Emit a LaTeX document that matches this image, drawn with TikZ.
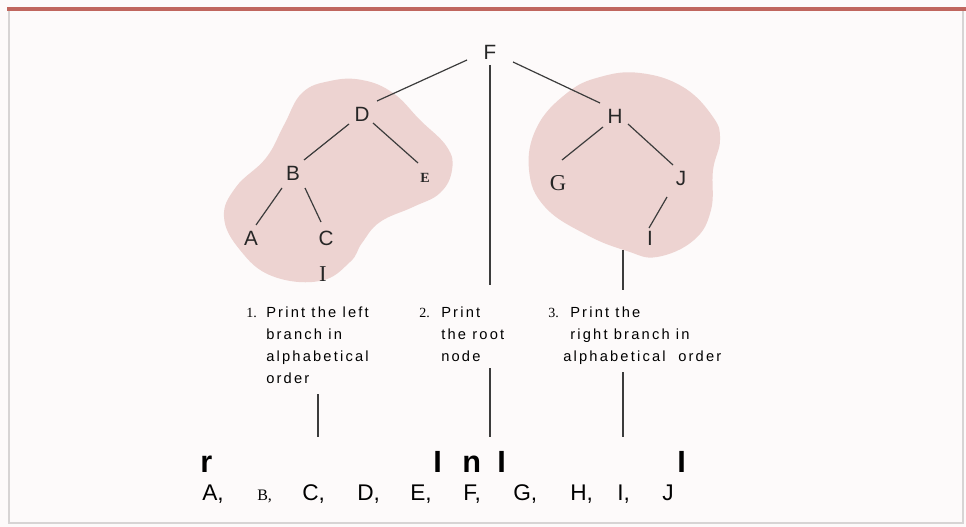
\documentclass[tikz,border=0pt]{standalone}
\usepackage{fontspec}
\setmainfont{Liberation Sans}
\newfontfamily\seriffont{Liberation Serif}
\definecolor{bgc}{RGB}{253,250,250}
\definecolor{blobc}{RGB}{237,211,209}
\definecolor{redline}{RGB}{192,102,94}
\definecolor{framec}{RGB}{215,212,212}
\definecolor{edgec}{RGB}{60,60,60}
\begin{document}
\begin{tikzpicture}[x=0.75pt,y=-0.75pt,
  edge/.style={draw=edgec,line width=0.9pt},
  tlet/.style={inner sep=0pt,font=\fontsize{15.5}{16}\selectfont,text=black!85},
  slet/.style={inner sep=0pt,font=\seriffont\fontsize{17}{18}\selectfont,text=black!85},
  bot/.style={inner sep=0pt,anchor=base west,font=\fontsize{17}{18}\selectfont},
  bigmark/.style={inner sep=0pt,anchor=base west,font=\bfseries\fontsize{23}{24}\selectfont},
  desc/.style={inner sep=0pt,anchor=base west,font=\addfontfeatures{LetterSpace=15}\fontsize{11}{12}\selectfont},
  num/.style={inner sep=0pt,anchor=base west,font=\seriffont\fontsize{10.5}{11}\selectfont}]
\useasboundingbox (0,0) rectangle (966,527);
\fill[bgc] (0,0) rectangle (966,527);
\draw[framec,line width=0.8pt] (9,10) -- (9,523) -- (963,523) -- (963,10);
\draw[redline,line width=2.4pt] (7,9) -- (966,9);
% blobs
\fill[blobc] plot[smooth cycle,tension=0.7] coordinates {
 (302,93) (330,81) (362,80) (393,93) (420,120) (447,147) (452,170) (440,193)
 (413,207) (380,222) (362,243) (350,262) (320,281) (272,276) (240,250) (224,217)
 (236,187) (266,158) (284,125)};
\fill[blobc] plot[smooth cycle,tension=0.7] coordinates {
 (600,77) (640,73) (683,87) (713,117) (720,140) (713,170) (711,210) (694,240)
 (657,257) (627,251) (587,235) (545,207) (529,170) (537,127) (567,93)};
% tree nodes
\node[tlet] (F) at (490,52) {F};
\node[tlet] (D) at (362,114) {D};
\node[inner sep=0pt,font=\seriffont\bfseries\fontsize{10.5}{11}\selectfont,text=black!85] (E) at (425,178) {E};
\node[tlet] (B) at (293,173) {B};
\node[tlet] (A) at (251,238) {A};
\node[tlet] (C) at (326,238) {C};
\node[slet] (Ib) at (323,274) {I};
\node[tlet] (H) at (615,116) {H};
\node[slet] (G) at (558,183) {G};
\node[tlet] (J) at (681,178) {J};
\node[tlet] (I) at (650,238) {I};
% connectors
\draw[edge] ([shift={(-23,8)}]F.center) -- ([shift={(15,-13)}]D.center);
\draw[edge] ([shift={(23,10)}]F.center) -- ([shift={(-15,-13)}]H.center);
\draw[edge] ([shift={(-13,10)}]D.center) -- ([shift={(11,-13)}]B.center);
\draw[edge] ([shift={(11,9)}]D.center) -- ([shift={(-7,-15)}]E.center);
\draw[edge] ([shift={(-11,15)}]B.center) -- ([shift={(5,-13)}]A.center);
\draw[edge] ([shift={(12,15)}]B.center) -- ([shift={(-5,-16)}]C.center);
\draw[edge] ([shift={(-12,11)}]H.center) -- ([shift={(4,-23)}]G.center);
\draw[edge] ([shift={(13,8)}]H.center) -- ([shift={(-8,-13)}]J.center);
\draw[edge] ([shift={(-14,19)}]J.center) -- ([shift={(-1,-10)}]I.center);
% descriptions
\node[num] (n1) at (246,317) {1.};
\node[desc] (t1a) at (266,317) {Print the left};
\node[desc] (t1b) at (266,339) {branch in};
\node[desc] (t1c) at (266,361) {alphabetical};
\node[desc] (t1d) at (266,383) {order};
\node[num] (n2) at (419,317) {2.};
\node[desc] (t2a) at (441,317) {Print};
\node[desc] (t2b) at (441,339) {the root};
\node[desc] (t2c) at (441,361) {node};
\node[num] (n3) at (548,317) {3.};
\node[desc] (t3a) at (570,317) {Print the};
\node[desc] (t3b) at (570,339) {right branch in};
\node[desc] (t3c) at (563,361) {alphabetical\ \ order};
% vertical lines
\coordinate (v1a) at (318,394); \coordinate (v1b) at (318,437);
\coordinate (v2a) at (490,368); \coordinate (v2b) at (490,437);
\coordinate (v3a) at (623,372); \coordinate (v3b) at (623,437);
\coordinate (fb) at (490,285); \coordinate (rb1) at (623,250); \coordinate (rb2) at (623,290);
\draw[edge] ([shift={(0,13)}]F.center) -- (fb);
\draw[edge] (rb1) -- (rb2);
\draw[edge] (v1a) -- (v1b);
\draw[edge] (v2a) -- (v2b);
\draw[edge] (v3a) -- (v3b);
% marks
\node[bigmark] (m1) at (200,472) {r};
\node[bigmark] (m2) at (433,472) {I};
\node[bigmark] (m3) at (462,472) {n};
\node[bigmark] (m4) at (497,472) {I};
\node[bigmark] (m5) at (677,472) {I};
% bottom sequence
\node[bot] (s1) at (202,500) {A,};
\node[bot,font=\seriffont\fontsize{12}{13}\selectfont] (s2) at (257,500) {B,};
\node[bot] (s3) at (302,500) {C,};
\node[bot] (s4) at (357,500) {D,};
\node[bot] (s5) at (410,500) {E,};
\node[bot] (s6) at (463,500) {F,};
\node[bot] (s7) at (513,500) {G,};
\node[bot] (s8) at (570,500) {H,};
\node[bot] (s9) at (617,500) {I,};
\node[bot] (s10) at (662,500) {J};
\end{tikzpicture}
\end{document}
